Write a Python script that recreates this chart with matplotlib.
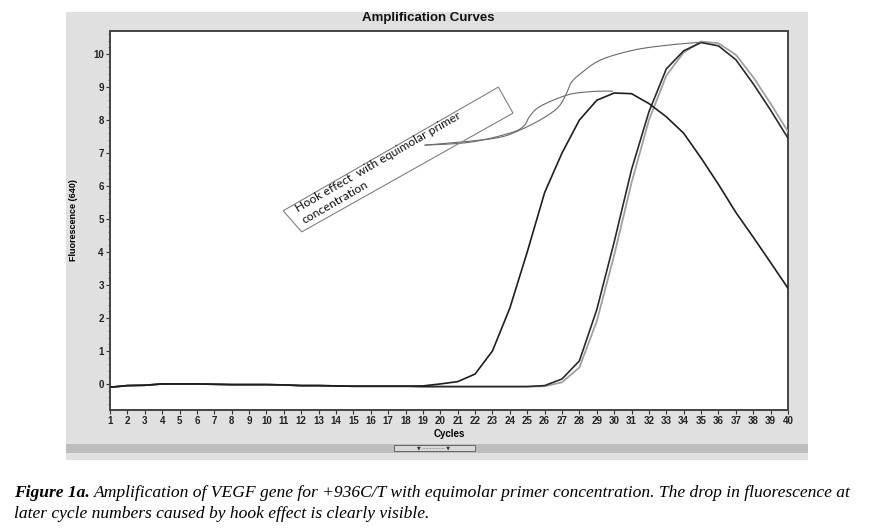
import numpy as np
import matplotlib
matplotlib.use("Agg")
import matplotlib.pyplot as plt
from matplotlib.patches import Rectangle, Polygon

# --- data ---
cycles = list(range(1, 41))

early = [-0.10, -0.05, -0.04, 0.00, 0.00, 0.00, -0.01, -0.02, -0.02, -0.02,
         -0.03, -0.05, -0.05, -0.06, -0.07, -0.07, -0.07, -0.07, -0.06, 0.00,
         0.07, 0.30, 1.00, 2.30, 4.00, 5.80, 7.00, 8.00, 8.60, 8.82,
         8.80, 8.50, 8.10, 7.60, 6.85, 6.05, 5.20, 4.45, 3.68, 2.90]

late_black = [-0.10, -0.05, -0.04, 0.00, 0.00, 0.00, -0.01, -0.02, -0.02, -0.02,
              -0.03, -0.05, -0.05, -0.06, -0.07, -0.07, -0.07, -0.07, -0.08, -0.08,
              -0.08, -0.08, -0.08, -0.08, -0.08, -0.05, 0.15, 0.70, 2.25, 4.30,
              6.50, 8.25, 9.55, 10.10, 10.35, 10.25, 9.83, 9.10, 8.30, 7.45]

late_gray = [-0.10, -0.05, -0.04, 0.00, 0.00, 0.00, -0.01, -0.02, -0.02, -0.02,
             -0.03, -0.05, -0.05, -0.06, -0.07, -0.07, -0.07, -0.07, -0.08, -0.08,
             -0.08, -0.08, -0.08, -0.08, -0.08, -0.07, 0.05, 0.50, 1.90, 3.90,
             6.10, 8.00, 9.35, 10.05, 10.38, 10.33, 9.98, 9.30, 8.50, 7.65]

# annotation: leader lines and box outline (cycle, fluorescence)
leader_late = [(19.13, 7.24), (21.73, 7.36), (23.45, 7.48), (24.60, 7.70),
               (25.93, 8.06), (26.80, 8.40), (27.25, 8.80), (27.55, 9.15),
               (28.10, 9.42), (29.21, 9.82), (31.11, 10.12), (33.07, 10.27),
               (34.97, 10.36)]
leader_early = [(19.13, 7.24), (21.73, 7.33), (24.03, 7.61), (24.80, 7.82),
                (25.15, 8.12), (25.76, 8.42), (27.31, 8.76), (28.63, 8.86),
                (29.90, 8.88)]
box_corners = [(10.96, 5.25), (23.34, 9.00), (24.18, 8.21), (12.03, 4.61)]

W, H = 870, 532
fig = plt.figure(figsize=(W / 100, H / 100), dpi=100)
fig.patch.set_facecolor("white")


def fx(px):
    return px / W


def fy(py):
    return 1 - py / H


def smooth_path(pts, n=12):
    # Catmull-Rom through the hand-drawn leader points
    p = np.array(pts, dtype=float)
    p = np.vstack([p[0], p, p[-1]])
    out = []
    for i in range(1, len(p) - 2):
        p0, p1, p2, p3 = p[i - 1], p[i], p[i + 1], p[i + 2]
        for t in np.linspace(0, 1, n, endpoint=False):
            t2, t3 = t * t, t * t * t
            out.append(0.5 * ((2 * p1) + (-p0 + p2) * t +
                              (2 * p0 - 5 * p1 + 4 * p2 - p3) * t2 +
                              (-p0 + 3 * p1 - 3 * p2 + p3) * t3))
    out.append(p[-2])
    return np.array(out)


# gray instrument panel
fig.patches.append(Rectangle((fx(66), fy(460)), fx(808 - 66), (460 - 12) / H,
                             transform=fig.transFigure, fc="#e0e0e0", ec="none", zorder=0))
fig.patches.append(Rectangle((fx(66), fy(453)), fx(808 - 66), 9 / H,
                             transform=fig.transFigure, fc="#bdbdbd", ec="none", zorder=1))
fig.patches.append(Rectangle((fx(394), fy(451)), fx(81), 6 / H,
                             transform=fig.transFigure, fc="#d8d8d8", ec="#555555",
                             lw=0.6, zorder=2))
fig.text(fx(434), fy(448), "\u25bc \u00b7\u00b7\u00b7\u00b7\u00b7\u00b7\u00b7\u00b7\u00b7\u00b7\u00b7\u00b7\u00b7\u00b7\u00b7 \u25bc",
         ha="center", va="center", fontsize=3.5, color="#333333", zorder=3)

ax = fig.add_axes([fx(110), fy(410), fx(788 - 110), (410 - 31) / H])
ax.set_zorder(5)
ax.set_facecolor("white")
ax.set_xlim(1, 40)
ax.set_ylim(-0.79, 10.70)

ax.plot(cycles, late_gray, color="#a0a0a0", lw=1.3, zorder=3)
ax.plot(cycles, late_black, color="#2a2a2a", lw=1.2, zorder=4)
ax.plot(cycles, early, color="#1e1e1e", lw=1.2, zorder=4)

for pts in (leader_late, leader_early):
    sp = smooth_path(pts)
    ax.plot(sp[:, 0], sp[:, 1], color="#6a6a6a", lw=0.8, zorder=5)

ax.add_patch(Polygon(box_corners, closed=True, fill=False, ec="#808080", lw=0.8, zorder=5))
ax.text(16.63, 6.55, "Hook effect  with equimolar primer\nconcentration",
        rotation=30, rotation_mode="anchor", ha="center", va="center",
        multialignment="left", fontsize=8.8, family="Lato", color="#111111",
        linespacing=1.2, zorder=6)

for s in ax.spines.values():
    s.set_color("#444444")
    s.set_linewidth(1.4)

ax.set_xticks(cycles)
ax.set_xticklabels([str(c) for c in cycles])
ax.set_yticks(range(0, 11))
ax.set_yticks(np.arange(-0.6, 10.7, 0.2), minor=True)
ax.tick_params(axis="both", which="major", length=3, width=0.8, color="#333333",
               labelsize=7, pad=1.5)
ax.tick_params(axis="y", which="minor", length=1.5, width=0.5, color="#555555")
for lab in ax.get_xticklabels() + ax.get_yticklabels():
    lab.set_family("Liberation Sans")
    lab.set_fontweight("bold")
    lab.set_color("#222222")

ax.set_xlabel("Cycles", fontsize=7, fontweight="bold", family="Liberation Sans", labelpad=2)
ax.set_ylabel("Fluorescence (640)", fontsize=6.5, fontweight="bold",
              family="Liberation Sans", labelpad=11)

fig.text(fx(428), fy(18), "Amplification Curves", ha="center", va="center",
         fontsize=9.5, fontweight="bold", family="Liberation Sans", color="#111111")

# caption
fig.canvas.draw()
renderer = fig.canvas.get_renderer()
cap_kw = dict(fontsize=12.6, family="Liberation Serif", style="italic", va="baseline")
head = fig.text(fx(14), fy(497), "Figure 1a.", fontweight="bold", **cap_kw)
bb = head.get_window_extent(renderer)
fig.text(bb.x1 / W + fx(4), fy(497),
         "Amplification of VEGF gene for +936C/T with equimolar primer concentration. "
         "The drop in fluorescence at", **cap_kw)
fig.text(fx(14), fy(518), "later cycle numbers caused by hook effect is clearly visible.", **cap_kw)

fig.savefig("out.png", dpi=100, facecolor="white")
